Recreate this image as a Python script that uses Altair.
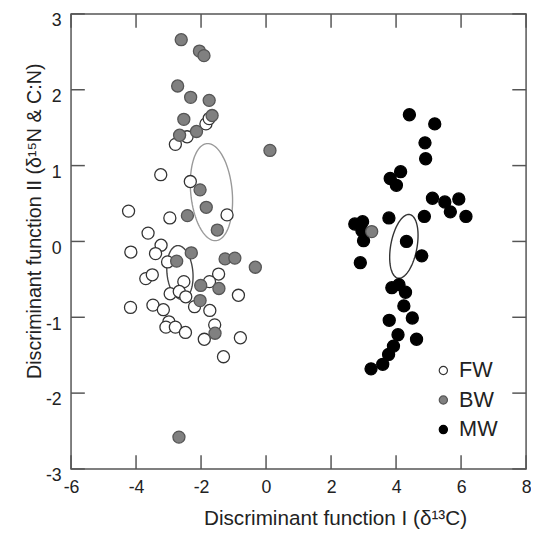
import altair as alt
import pandas as pd
import numpy as np

# ---- data ----
fw_x = [-1.85, -1.75, -2.43, -2.79, -3.24, -2.33, -4.23, -2.96, -1.20, -3.63,
        -4.16, -3.23, -3.40, -3.03, -3.70, -3.50, -2.53, -1.46, -1.74, -2.95,
        -2.67, -2.47, -0.85, -4.17, -3.48, -3.16, -2.20, -1.73, -2.99, -3.08,
        -2.79, -2.48, -1.58, -1.90, -0.79, -1.31]
fw_y = [1.55, 1.62, 1.38, 1.28, 0.88, 0.79, 0.40, 0.31, 0.35, 0.11,
        -0.14, -0.05, -0.16, -0.27, -0.49, -0.44, -0.53, -0.43, -0.53, -0.69,
        -0.66, -0.73, -0.71, -0.87, -0.84, -0.90, -0.86, -0.91, -1.06, -1.13,
        -1.13, -1.20, -1.10, -1.29, -1.27, -1.52]

bw_x = [-2.61, -2.05, -1.91, -2.72, -2.32, -1.75, -2.53, -1.66, -2.14, -2.66,
        -2.03, -1.84, -2.42, -1.50, 0.12, -2.30, -2.75, -1.26, -0.96, -0.33,
        -2.01, -1.45, -2.03, -1.57, -2.68, 3.25]
bw_y = [2.66, 2.51, 2.45, 2.05, 1.90, 1.86, 1.61, 1.66, 1.45, 1.40,
        0.68, 0.45, 0.34, 0.15, 1.20, -0.15, -0.26, -0.23, -0.22, -0.34,
        -0.58, -0.62, -0.78, -1.21, -2.58, 0.13]

mw_x = [4.41, 5.19, 4.89, 4.91, 4.14, 3.82, 4.01, 5.12, 5.50, 5.93,
        5.67, 6.15, 4.87, 3.78, 2.73, 2.97, 2.95, 3.00, 4.32, 4.79,
        2.90, 3.87, 4.09, 4.29, 4.24, 3.79, 4.50, 4.06, 4.63, 3.92,
        3.77, 3.59, 3.23]
mw_y = [1.67, 1.55, 1.30, 1.09, 0.92, 0.83, 0.74, 0.57, 0.52, 0.56,
        0.39, 0.33, 0.33, 0.31, 0.23, 0.26, 0.14, 0.01, 0.00, -0.19,
        -0.28, -0.61, -0.57, -0.67, -0.85, -1.04, -1.01, -1.23, -1.29, -1.38,
        -1.49, -1.62, -1.68]

groups = ["FW", "BW", "MW"]
fills = ["white", "#808080", "black"]
strokes = ["#333333", "#555555", "black"]

# ellipses: centre, x-radius, y-radius, x-shear (all in data units)
ell_names = ["FW", "BW", "MW"]
ell_cx = [-2.65, -1.68, 4.24]
ell_cy = [-0.41, 0.65, -0.065]
ell_rx = [0.40, 0.64, 0.41]
ell_ry = [0.355, 0.64, 0.42]
ell_k = [-0.06, -0.115, 0.15]
ell_col = ["#444444", "#999999", "#333333"]

x_ticks = [-6, -4, -2, 0, 2, 4, 6, 8]
y_ticks = [-3, -2, -1, 0, 1, 2, 3]

# ---- tables ----
rows = []
order = 0
for g, xs, ys in [("FW", fw_x, fw_y), ("MW", mw_x, mw_y), ("BW", bw_x, bw_y)]:
    for a, b in zip(xs, ys):
        rows.append({"x": a, "y": b, "group": g, "ord": order})
        order += 1
df = pd.DataFrame(rows)

W = 462
H = 462
font = "Liberation Sans"

x_scale = alt.Scale(domain=[-6, 8], nice=False, zero=False)
y_scale = alt.Scale(domain=[-3, 3], nice=False, zero=False)

x_axis = alt.Axis(
    values=x_ticks, ticks=False, domain=False, grid=False,
    labelExpr="'' + datum.value", labelFlush=False, labelOverlap=False,
    labelFontSize=18, labelPadding=10, labelFont=font, labelColor="#222222",
    title="Discriminant function I (δ¹³C)", titleFontSize=21, titleFont=font,
    titleFontWeight="normal", titleColor="#222222",
    titleX=268, titleY=50, titleAlign="center", titleBaseline="middle")
y_axis = alt.Axis(
    values=y_ticks, ticks=False, domain=False, grid=False,
    labelExpr="'' + datum.value", labelFlush=False, labelOverlap=False,
    labelFontSize=18, labelPadding=10, labelOffset=7, labelFont=font, labelColor="#222222",
    title="Discriminant function II (δ¹⁵N & C:N)", titleFontSize=20, titleFont=font,
    titleFontWeight="normal", titleColor="#222222",
    titleX=-37, titleY=210, titleAngle=270, titleAlign="center", titleBaseline="middle")

points = alt.Chart(df).mark_point(
    shape="circle", filled=True, size=150, strokeWidth=1.3, opacity=1
).encode(
    x=alt.X("x:Q", scale=x_scale, axis=x_axis),
    y=alt.Y("y:Q", scale=y_scale, axis=y_axis),
    fill=alt.Fill("group:N", scale=alt.Scale(domain=groups, range=fills),
                  legend=alt.Legend(orient="none", legendX=367, legendY=351, title=None,
                                    labelFontSize=22, labelFont=font, labelColor="#222222",
                                    symbolType="circle", symbolSize=70,
                                    symbolStrokeColor="#333333", symbolStrokeWidth=1.2,
                                    rowPadding=8, labelOffset=5, padding=0)),
    stroke=alt.Stroke("group:N", scale=alt.Scale(domain=groups, range=strokes), legend=None),
    order=alt.Order("ord:Q"),
)

ell_layers = []
t = np.linspace(0, 2 * np.pi, 121)
for name, cx, cy, rx, ry, k, col in zip(ell_names, ell_cx, ell_cy, ell_rx, ell_ry, ell_k, ell_col):
    edf = pd.DataFrame({
        "x": cx + rx * np.cos(t) + k * np.sin(t),
        "y": cy + ry * np.sin(t),
        "i": np.arange(len(t)),
    })
    ell_layers.append(
        alt.Chart(edf).mark_line(color=col, strokeWidth=1.4).encode(
            x=alt.X("x:Q", scale=x_scale, axis=x_axis),
            y=alt.Y("y:Q", scale=y_scale, axis=y_axis),
            order=alt.Order("i:Q"),
        )
    )

xt = pd.DataFrame({"x": x_ticks})
yt = pd.DataFrame({"y": y_ticks})
tick_style = dict(color="#555555", strokeWidth=1.5)
tb = alt.Chart(xt).mark_rule(**tick_style).encode(
    x=alt.X("x:Q", scale=x_scale, axis=x_axis), y=alt.value(H), y2=alt.value(H - 14))
tt = alt.Chart(xt).mark_rule(**tick_style).encode(
    x=alt.X("x:Q", scale=x_scale, axis=x_axis), y=alt.value(0), y2=alt.value(14))
tl = alt.Chart(yt).mark_rule(**tick_style).encode(
    y=alt.Y("y:Q", scale=y_scale, axis=y_axis), x=alt.value(0), x2=alt.value(14))
tr = alt.Chart(yt).mark_rule(**tick_style).encode(
    y=alt.Y("y:Q", scale=y_scale, axis=y_axis), x=alt.value(W), x2=alt.value(W - 14))

chart = alt.layer(tb, tt, tl, tr, *ell_layers, points).properties(
    width=W, height=H,
    autosize=alt.AutoSizeParams(type="none"),
    padding={"left": 64, "top": 2, "right": 5, "bottom": 60},
).configure_view(stroke="#555555", strokeWidth=1.5)

chart.save("out.html", embed_options={"renderer": "svg", "actions": False})
